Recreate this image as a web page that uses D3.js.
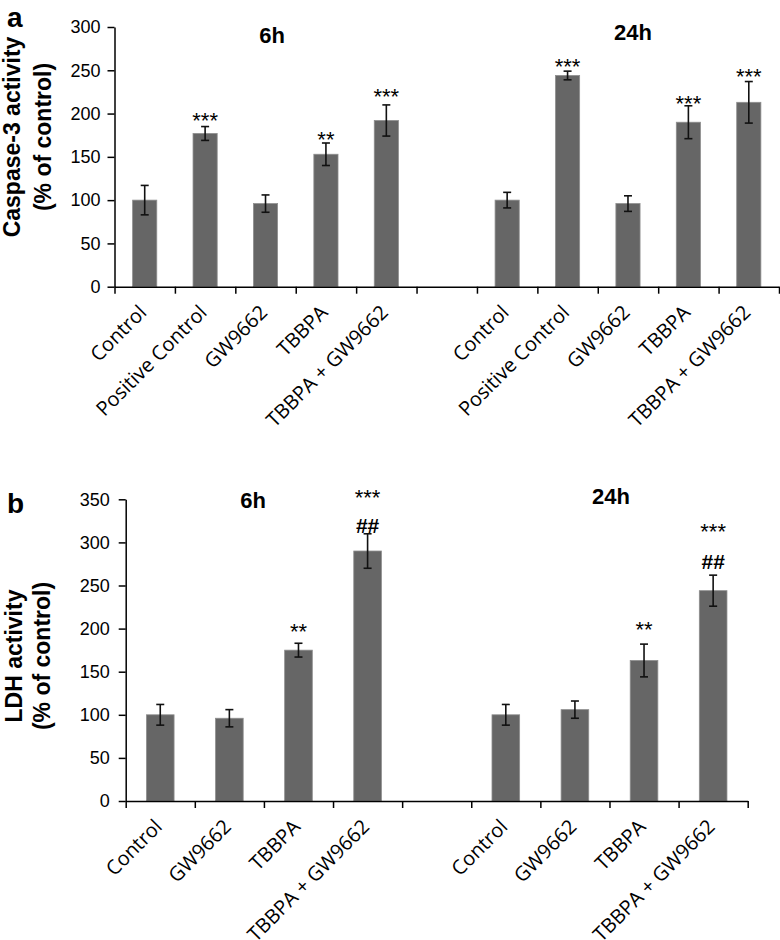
<!DOCTYPE html>
<html><head><meta charset="utf-8">
<script src="https://cdn.jsdelivr.net/npm/d3@7"></script>
<style>body{margin:0;background:#fff} svg{display:block}</style>
</head><body><svg id="c" width="780" height="940"></svg>
<script>
// ---------- DATA ----------
const timepoints = ["6h", "24h"];

// Panel a: Caspase-3 activity (% of control)
const caspCategories = ["Control", "Positive Control", "GW9662", "TBBPA", "TBBPA + GW9662"];
const casp6h   = [100, 177, 96, 153, 192];
const casp6hErr = [17, 8, 10, 13, 18];
const casp24h  = [100, 244, 96, 190, 213];
const casp24hErr = [9, 5, 9, 19, 24];
const caspStars6h  = ["", "***", "", "**", "***"];
const caspStars24h = ["", "***", "", "***", "***"];
const caspStarPos6h  = [null, 198, null, 176, 225];
const caspStarPos24h = [null, 260, null, 218, 249];
const caspTicks = [0, 50, 100, 150, 200, 250, 300];

// Panel b: LDH activity (% of control)
const ldhCategories = ["Control", "GW9662", "TBBPA", "TBBPA + GW9662"];
const ldh6h   = [100, 96, 175, 290];
const ldh6hErr = [12, 10, 8, 20];
const ldh24h  = [100, 106, 163, 244];
const ldh24hErr = [12, 10, 19, 18];
const ldhStars6h  = ["", "", "**", "***"];
const ldhStars24h = ["", "", "**", "***"];
const ldhStarPos6h  = [null, null, 203, 358];
const ldhStarPos24h = [null, null, 205, 318];
const ldhHash6h  = ["", "", "", "##"];
const ldhHash24h = ["", "", "", "##"];
const ldhHashPos6h  = [null, null, null, 320];
const ldhHashPos24h = [null, null, null, 278];
const ldhTicks = [0, 50, 100, 150, 200, 250, 300, 350];

// ---------- DRAW ----------
const svg = d3.select("#c");
const AX = "Liberation Sans, Arial, sans-serif";
const LBL = "Open Sans, Noto Sans, sans-serif";

function panel(cfg) {
  const keys = [];
  const rows = [];
  cfg.groups.forEach((g, gi) => {
    if (gi > 0) keys.push("gap" + gi);
    cfg.cats.forEach((c, ci) => {
      const k = g + "|" + c;
      keys.push(k);
      rows.push({key: k, cat: c, v: cfg.values[gi][ci], e: cfg.errs[gi][ci],
        star: cfg.stars[gi][ci], starPos: cfg.starPos[gi][ci],
        hash: cfg.hash ? cfg.hash[gi][ci] : "", hashPos: cfg.hashPos ? cfg.hashPos[gi][ci] : null});
    });
  });
  const x = d3.scaleBand().domain(keys).range([cfg.left, cfg.right]).padding(0);
  const y = d3.scaleLinear().domain([0, cfg.max]).range([cfg.bottom, cfg.top]);
  const idx = d3.scaleLinear().domain([0, keys.length]).range([cfg.left, cfg.right]);
  const g = svg.append("g");
  const bw = x.bandwidth() * 0.4;

  // bars
  g.selectAll("rect.bar").data(rows).join("rect")
    .attr("x", d => x(d.key) + x.bandwidth() / 2 - bw / 2)
    .attr("y", d => y(d.v))
    .attr("width", bw)
    .attr("height", d => y(0) - y(d.v))
    .attr("fill", "#666666")
    .attr("stroke", "#8e8e8e").attr("stroke-width", 0.8);

  // error bars
  const eb = g.selectAll("g.err").data(rows).join("g")
    .attr("stroke", "#111").attr("stroke-width", 1.6);
  const cx = d => x(d.key) + x.bandwidth() / 2;
  eb.append("line").attr("x1", cx).attr("x2", cx)
    .attr("y1", d => y(d.v + d.e)).attr("y2", d => y(d.v - d.e));
  eb.append("line").attr("x1", d => cx(d) - 4).attr("x2", d => cx(d) + 4)
    .attr("y1", d => y(d.v + d.e)).attr("y2", d => y(d.v + d.e));
  eb.append("line").attr("x1", d => cx(d) - 4).attr("x2", d => cx(d) + 4)
    .attr("y1", d => y(d.v - d.e)).attr("y2", d => y(d.v - d.e));

  // stars
  g.selectAll("text.star").data(rows.filter(d => d.star)).join("text")
    .attr("x", cx).attr("y", d => y(d.starPos) + 0.57 * 22)
    .attr("text-anchor", "middle").attr("font-family", AX).attr("font-size", 22)
    .text(d => d.star);
  g.selectAll("text.hash").data(rows.filter(d => d.hash)).join("text")
    .attr("x", cx).attr("y", d => y(d.hashPos) + 0.36 * 21)
    .attr("text-anchor", "middle").attr("font-family", AX).attr("font-size", 21).attr("font-weight", "bold")
    .text(d => d.hash);

  // x axis (ticks at band boundaries)
  const xa = g.append("g").attr("transform", `translate(0,${cfg.bottom})`)
    .call(d3.axisBottom(idx).tickValues(d3.range(keys.length + 1)).tickFormat("").tickSize(7).tickSizeOuter(0));
  xa.select(".domain").attr("stroke", "#000").attr("stroke-width", 1.5);
  xa.selectAll(".tick line").attr("stroke", "#000").attr("stroke-width", 1.5);

  // category labels
  g.selectAll("text.cat").data(rows).join("text")
    .attr("transform", d => `translate(${x(d.key) + x.bandwidth() / 2 + 3},${cfg.bottom + 27}) rotate(-45)`)
    .attr("text-anchor", "end").attr("font-family", LBL).attr("font-size", 20).attr("fill", "#000")
    .text(d => d.cat);

  // y axis
  const ya = g.append("g").attr("transform", `translate(${cfg.left},0)`)
    .call(d3.axisLeft(y).tickValues(cfg.ticks).tickSize(7).tickPadding(cfg.tickPad).tickSizeOuter(0));
  ya.select(".domain").attr("stroke", "#000").attr("stroke-width", 1.5);
  ya.selectAll(".tick line").attr("stroke", "#000").attr("stroke-width", 1.5);
  ya.selectAll(".tick text").attr("font-family", AX).attr("font-size", 18).attr("fill", "#000");

  // time-point titles
  cfg.groups.forEach((t, i) => {
    g.append("text").attr("x", cfg.titleX[i]).attr("y", cfg.titleY[i])
      .attr("text-anchor", "middle").attr("font-family", AX).attr("font-weight", "bold").attr("font-size", 22)
      .text(t);
  });

  // y-axis title
  const yt = g.append("text").attr("transform", `translate(0,${cfg.ytCenter}) rotate(-90)`)
    .attr("text-anchor", "middle").attr("font-family", AX).attr("font-weight", "bold").attr("font-size", 23);
  yt.append("tspan").attr("x", 0).attr("y", cfg.ytX[0]).text(cfg.ytitle[0]);
  yt.append("tspan").attr("x", 0).attr("y", cfg.ytX[1]).text(cfg.ytitle[1]);

  // panel letter
  g.append("text").attr("x", 7).attr("y", cfg.letterY).attr("font-family", AX).attr("font-weight", "bold")
    .attr("font-size", 28).text(cfg.letter);
}

panel({
  groups: timepoints, cats: caspCategories,
  values: [casp6h, casp24h], errs: [casp6hErr, casp24hErr],
  stars: [caspStars6h, caspStars24h], starPos: [caspStarPos6h, caspStarPos24h],
  max: 300, ticks: caspTicks, tickPad: 7,
  left: 114.5, right: 779, top: 27, bottom: 286.7,
  titleX: [272, 633], titleY: [43, 40],
  ytitle: ["Caspase-3 activity", "(% of control)"], ytCenter: 137, ytX: [20, 51],
  letter: "a", letterY: 27
});

panel({
  groups: timepoints, cats: ldhCategories,
  values: [ldh6h, ldh24h], errs: [ldh6hErr, ldh24hErr],
  stars: [ldhStars6h, ldhStars24h], starPos: [ldhStarPos6h, ldhStarPos24h],
  hash: [ldhHash6h, ldhHash24h], hashPos: [ldhHashPos6h, ldhHashPos24h],
  max: 350, ticks: ldhTicks, tickPad: 9,
  left: 125.7, right: 747.7, top: 499.3, bottom: 801,
  titleX: [253, 611], titleY: [508, 504],
  ytitle: ["LDH activity", "(% of control)"], ytCenter: 656, ytX: [22, 50],
  letter: "b", letterY: 513
});
</script></body></html>
